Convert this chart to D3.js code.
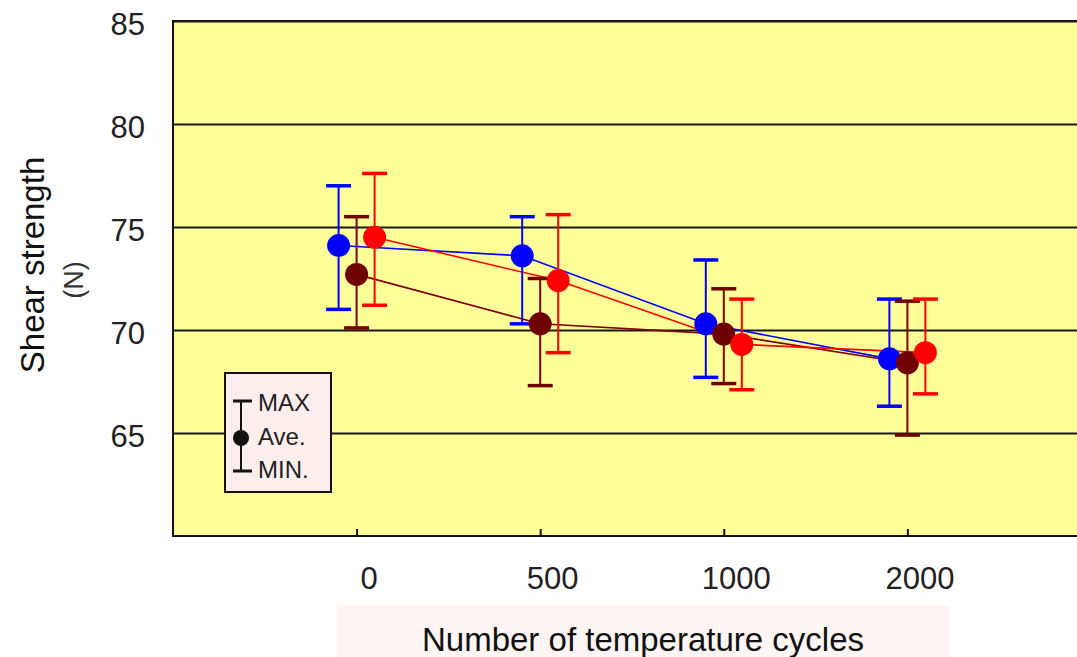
<!DOCTYPE html>
<html>
<head>
<meta charset="utf-8">
<script src="https://cdn.jsdelivr.net/npm/d3@7"></script>
<style>
  body { margin: 0; background: #fff; }
  svg { display: block; font-family: 'Liberation Sans', Arial, sans-serif; }
</style>
</head>
<body>
<div id="chart"></div>
<script>
// Data
const cycles = ['0', '500', '1000', '2000']
const yTicks = [65, 70, 75, 80, 85]

const blueAve = [74.1, 73.6, 70.3, 68.6]
const blueMax = [77.0, 75.5, 73.4, 71.5]
const blueMin = [71.0, 70.3, 67.7, 66.3]

const darkAve = [72.7, 70.3, 69.8, 68.4]
const darkMax = [75.5, 72.5, 72.0, 71.4]
const darkMin = [70.1, 67.3, 67.4, 64.9]

const redAve = [74.5, 72.4, 69.3, 68.9]
const redMax = [77.6, 75.6, 71.5, 71.5]
const redMin = [71.2, 68.9, 67.1, 66.9]

// Our canvas
const width = 1077,
  height = 657,
  plotLeft = 173,
  plotTop = 21,
  plotBottom = 536,
  plotRight = 1091

const series = [
  { ave: blueAve, max: blueMax, min: blueMin, line: '#0000ff', mark: '#0000ff', off: -18 },
  { ave: darkAve, max: darkMax, min: darkMin, line: '#800000', mark: '#6e0000', off: 0 },
  { ave: redAve, max: redMax, min: redMin, line: '#ff0000', mark: '#ff0000', off: 18 }
]

let xScale = d3.scalePoint()
  .domain(cycles)
  .range([plotLeft, plotRight])
  .padding(1)

let yScale = d3.scaleLinear()
  .domain([60, 85])
  .range([plotBottom, plotTop])

let svg = d3.select('#chart')
  .append('svg')
  .attr('width', width)
  .attr('height', height)

// plot background
svg.append('rect')
  .attr('x', plotLeft)
  .attr('y', plotTop)
  .attr('width', plotRight - plotLeft)
  .attr('height', plotBottom - plotTop)
  .attr('fill', '#ffff99')
  .attr('stroke', '#111')
  .attr('stroke-width', 2)

// y axis: gridlines + labels
let yAxis = svg.append('g')
  .attr('transform', `translate(${plotLeft},0)`)
  .call(d3.axisLeft(yScale)
    .tickValues(yTicks)
    .tickSizeInner(-(plotRight - plotLeft))
    .tickSizeOuter(0)
    .tickPadding(28))
yAxis.select('.domain').remove()
yAxis.selectAll('line')
  .attr('stroke', '#1a1a1a')
  .attr('stroke-width', 2)
yAxis.selectAll('text')
  .attr('font-size', 31)
  .attr('fill', '#222')
  .attr('dy', '0.45em')

// x axis: small ticks pointing up, labels below
let xAxis = svg.append('g')
  .attr('transform', `translate(0,${plotBottom})`)
  .call(d3.axisBottom(xScale)
    .tickSizeInner(-7)
    .tickSizeOuter(0)
    .tickPadding(31))
xAxis.select('.domain').remove()
xAxis.selectAll('line')
  .attr('stroke', '#111')
  .attr('stroke-width', 2)
xAxis.selectAll('text')
  .attr('font-size', 31)
  .attr('fill', '#222')
  .attr('dx', 12)

// series lines
let line = (s) => d3.line()
  .x((d, i) => xScale(cycles[i]) + s.off)
  .y(d => yScale(d))

series.forEach(s => {
  svg.append('path')
    .datum(s.ave)
    .attr('fill', 'none')
    .attr('stroke', s.line)
    .attr('stroke-width', 1.6)
    .attr('d', line(s))
})

// error bars and markers
series.forEach(s => {
  let g = svg.append('g')
  let rows = cycles.map((c, i) => ({ c: c, ave: s.ave[i], max: s.max[i], min: s.min[i] }))

  g.selectAll('line.bar')
    .data(rows)
    .enter()
    .append('line')
    .attr('x1', d => xScale(d.c) + s.off)
    .attr('x2', d => xScale(d.c) + s.off)
    .attr('y1', d => yScale(d.max))
    .attr('y2', d => yScale(d.min))
    .attr('stroke', s.line)
    .attr('stroke-width', 2)

  ;['max', 'min'].forEach(k => {
    g.selectAll('line.cap-' + k)
      .data(rows)
      .enter()
      .append('line')
      .attr('x1', d => xScale(d.c) + s.off - 12.5)
      .attr('x2', d => xScale(d.c) + s.off + 12.5)
      .attr('y1', d => yScale(d[k]))
      .attr('y2', d => yScale(d[k]))
      .attr('stroke', s.mark)
      .attr('stroke-width', 3.5)
  })

  g.selectAll('circle')
    .data(rows)
    .enter()
    .append('circle')
    .attr('cx', d => xScale(d.c) + s.off)
    .attr('cy', d => yScale(d.ave))
    .attr('r', 11.5)
    .attr('fill', s.mark)
})

// legend box
let legend = svg.append('g')
legend.append('rect')
  .attr('x', 225).attr('y', 373)
  .attr('width', 106).attr('height', 119)
  .attr('fill', '#fdeeee')
  .attr('stroke', '#111')
  .attr('stroke-width', 2)
legend.append('line')
  .attr('x1', 241).attr('x2', 241).attr('y1', 401).attr('y2', 471)
  .attr('stroke', '#111').attr('stroke-width', 2)
legend.append('line')
  .attr('x1', 233).attr('x2', 252).attr('y1', 401).attr('y2', 401)
  .attr('stroke', '#111').attr('stroke-width', 3)
legend.append('line')
  .attr('x1', 233).attr('x2', 252).attr('y1', 471).attr('y2', 471)
  .attr('stroke', '#111').attr('stroke-width', 3)
legend.append('circle')
  .attr('cx', 241).attr('cy', 438).attr('r', 8)
  .attr('fill', '#111')
legend.selectAll('text')
  .data([['MAX', 411], ['Ave.', 445], ['MIN.', 478]])
  .enter()
  .append('text')
  .attr('x', 258)
  .attr('y', d => d[1])
  .attr('font-size', 24)
  .attr('fill', '#222')
  .text(d => d[0])

// axis titles
svg.append('text')
  .attr('transform', 'translate(44,265) rotate(-90)')
  .attr('text-anchor', 'middle')
  .attr('font-size', 33)
  .attr('fill', '#111')
  .text('Shear strength')
svg.append('text')
  .attr('transform', 'translate(83,280) rotate(-90)')
  .attr('text-anchor', 'middle')
  .attr('font-size', 27)
  .attr('fill', '#333')
  .text('(N)')

svg.append('rect')
  .attr('x', 337).attr('y', 605)
  .attr('width', 613).attr('height', 52)
  .attr('fill', '#fdf6f4')
svg.append('text')
  .attr('x', 643)
  .attr('y', 651)
  .attr('text-anchor', 'middle')
  .attr('font-size', 33)
  .attr('fill', '#111')
  .text('Number of temperature cycles')
</script>
</body>
</html>
